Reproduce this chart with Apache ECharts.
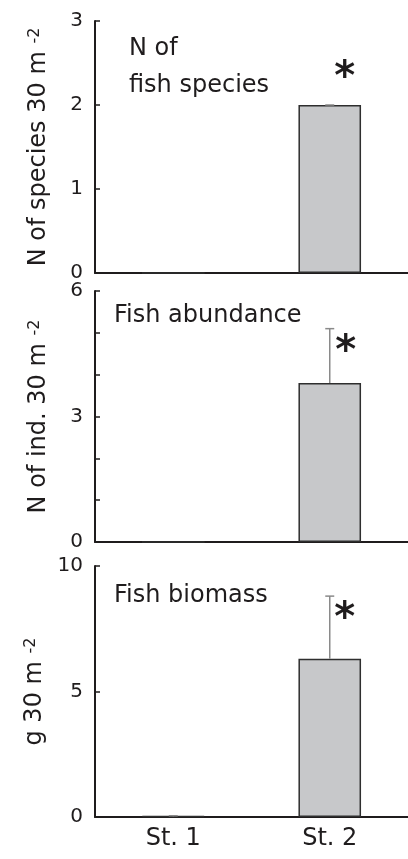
<!DOCTYPE html>
<html>
<head>
<meta charset="utf-8">
<script src="https://cdn.jsdelivr.net/npm/echarts@6/dist/echarts.min.js"></script>
<style>
html,body{margin:0;padding:0;background:#fff;}
#chart{width:408px;height:859px;}
</style>
</head>
<body>
<div id="chart"></div>
<script>
const categories = ['St. 1', 'St. 2'];
const speciesMean = [0, 2.0];
const speciesSE = [0, 0];
const abundanceMean = [0, 3.8];
const abundanceSE = [0, 1.3];
const biomassMean = [0.03, 6.3];
const biomassSE = [0.02, 2.5];
const sigMarks = ['', '*'];
const panelTitles = ['N of\nfish species', 'Fish abundance', 'Fish biomass'];
const axisNames = ['N of species 30 m ', 'N of ind. 30 m ', 'g 30 m '];
const axisMax = [3, 6, 10];
const axisInterval = [1, 1, 5];
const labelStep = [1, 3, 5];

const FONT = 'DejaVu Sans';
const INK = '#1f1c1d';

const means = [speciesMean, abundanceMean, biomassMean];
const ses = [speciesSE, abundanceSE, biomassSE];

const grids = [
  {left: 95, right: -5, top: 21, height: 252},
  {left: 95, right: -5, top: 291, height: 251},
  {left: 95, right: -5, top: 566, height: 251}
];
const starOffset = [[15, -35], [16, 15], [15, 14]];

const chart = echarts.init(document.getElementById('chart'), null, {renderer: 'canvas'});

const xAxes = [], yAxes = [], series = [], titles = [];
const titlePos = [[129, 30], [114, 302], [114, 582]];

for (let i = 0; i < 3; i++) {
  xAxes.push({
    type: 'category', gridIndex: i, data: categories,
    axisLine: {lineStyle: {color: INK, width: 2}},
    axisTick: {show: false},
    axisLabel: {show: i === 2, fontSize: 24, fontFamily: FONT, color: INK, margin: 10}
  });
  const step = labelStep[i];
  yAxes.push({
    type: 'value', gridIndex: i, min: 0, max: axisMax[i], interval: axisInterval[i],
    axisLine: {show: true, lineStyle: {color: INK, width: 2}},
    axisTick: {show: true, inside: true, length: 5, lineStyle: {color: INK, width: 1.5}},
    splitLine: {show: false},
    axisLabel: {
      fontSize: 20, fontFamily: FONT, color: INK, margin: 12,
      formatter: v => (Math.round(v) % step === 0 ? String(v) : '')
    },
    name: '{m|' + axisNames[i] + '}{s|-2}',
    nameLocation: 'middle', nameRotate: 90, nameGap: 44,
    nameTextStyle: {
      fontFamily: FONT, color: INK,
      rich: {
        m: {fontSize: 24, fontFamily: FONT, color: INK},
        s: {fontSize: 16, fontFamily: FONT, color: INK, verticalAlign: 'top'}
      }
    }
  });
  series.push({
    type: 'bar', xAxisIndex: i, yAxisIndex: i, barWidth: '40%',
    data: means[i],
    itemStyle: {color: '#c7c8ca', borderColor: '#2e2e2e', borderWidth: 1.5},
    z: 2
  });
  const errData = categories.map((c, k) => [k, means[i][k], ses[i][k], sigMarks[k]]);
  const off = starOffset[i];
  series.push({
    type: 'custom', xAxisIndex: i, yAxisIndex: i, z: 4,
    data: errData,
    renderItem: function (params, api) {
      const x = api.value(0), m = api.value(1), se = api.value(2);
      if (m === 0) return {type: 'group', children: []};
      const p0 = api.coord([x, m]);
      const p1 = api.coord([x, m + se]);
      const half = 4.5;
      const children = [
        {type: 'line', shape: {x1: p0[0], y1: p0[1], x2: p1[0], y2: p1[1]}, style: {stroke: '#8a8a8a', lineWidth: 1.5}},
        {type: 'line', shape: {x1: p1[0] - half, y1: p1[1], x2: p1[0] + half, y2: p1[1]}, style: {stroke: '#8a8a8a', lineWidth: 1.5}}
      ];
      const mark = errData[params.dataIndex][3];
      if (mark) {
        children.push({
          type: 'text',
          style: {text: mark, x: p1[0] + off[0], y: p1[1] + off[1] + 9, fill: INK,
            font: 'bold 40px "' + FONT + '"', align: 'center', verticalAlign: 'middle'}
        });
      }
      return {type: 'group', children: children};
    }
  });
  titles.push({
    text: panelTitles[i], left: titlePos[i][0], top: titlePos[i][1], padding: 0,
    textStyle: {fontSize: 24, fontWeight: 'normal', fontFamily: FONT, color: INK, lineHeight: i === 0 ? 37 : 28}
  });
}

chart.setOption({
  animation: false,
  backgroundColor: '#fff',
  title: titles,
  grid: grids,
  xAxis: xAxes,
  yAxis: yAxes,
  series: series
});
</script>
</body>
</html>
